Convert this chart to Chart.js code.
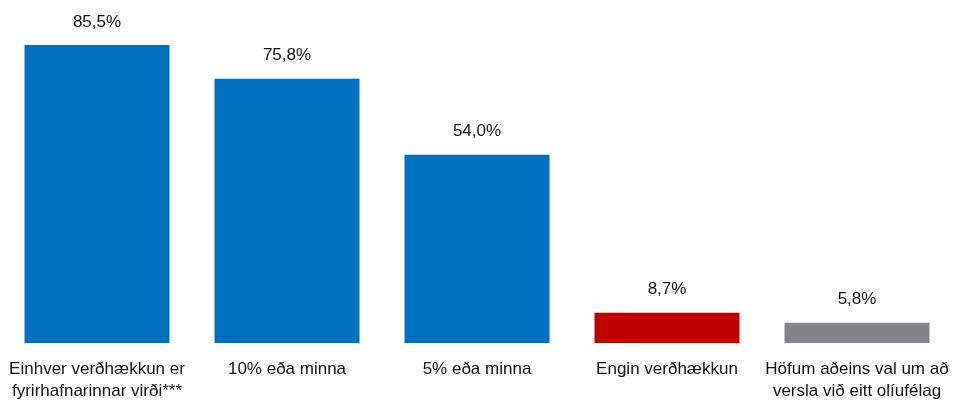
<!DOCTYPE html>
<html>
<head>
<meta charset="utf-8">
<script src="https://cdn.jsdelivr.net/npm/chart.js@4"></script>
<style>
  body { margin: 0; background: #fff; }
</style>
</head>
<body>
<canvas id="chart" width="953" height="400"></canvas>
<script>
// Flokkar (tvær línur þar sem textinn brotnar)
const flokkar = [
    ['Einhver verðhækkun er', 'fyrirhafnarinnar virði***'],
    '10% eða minna',
    '5% eða minna',
    'Engin verðhækkun',
    ['Höfum aðeins val um að', 'versla við eitt olíufélag']
];
const gildi = [85.5, 75.8, 54.0, 8.7, 5.8];
const litir = ['#0070C0', '#0070C0', '#0070C0', '#C00000', '#838286'];

const letur = '"Liberation Sans", Arial, sans-serif';

// Prósentutölur fyrir ofan súlurnar
const gildaMerki = {
    id: 'gildaMerki',
    afterDatasetsDraw(chart) {
        const ctx = chart.ctx;
        const meta = chart.getDatasetMeta(0);
        ctx.save();
        ctx.font = '17px ' + letur;
        ctx.fillStyle = '#111';
        ctx.textAlign = 'center';
        ctx.textBaseline = 'middle';
        meta.data.forEach((bar, i) => {
            const texti = gildi[i].toFixed(1).replace('.', ',') + '%';
            ctx.fillText(texti, bar.x, bar.y - 23);
        });
        ctx.restore();
    }
};

new Chart(document.getElementById('chart').getContext('2d'), {
    type: 'bar',
    data: {
        labels: flokkar,
        datasets: [{
            data: gildi,
            backgroundColor: litir,
            borderWidth: 0,
            barPercentage: 0.763,
            categoryPercentage: 1
        }]
    },
    options: {
        responsive: false,
        animation: false,
        layout: { padding: { left: 2, right: 1, top: 0, bottom: 0 } },
        plugins: {
            legend: { display: false },
            tooltip: { enabled: false }
        },
        scales: {
            y: {
                display: false,
                min: 0,
                max: 98.4
            },
            x: {
                grid: { display: false, drawTicks: false },
                border: { display: false },
                ticks: {
                    color: '#111',
                    font: { family: letur, size: 17, lineHeight: 1.3 },
                    padding: 15,
                    maxRotation: 0,
                    autoSkip: false
                },
                afterFit(scale) {
                    // textinn má ná út fyrir jaðrana
                    scale.height = 57;
                    scale.paddingLeft = 0;
                    scale.paddingRight = 0;
                }
            }
        }
    },
    plugins: [gildaMerki]
});
</script>
</body>
</html>
